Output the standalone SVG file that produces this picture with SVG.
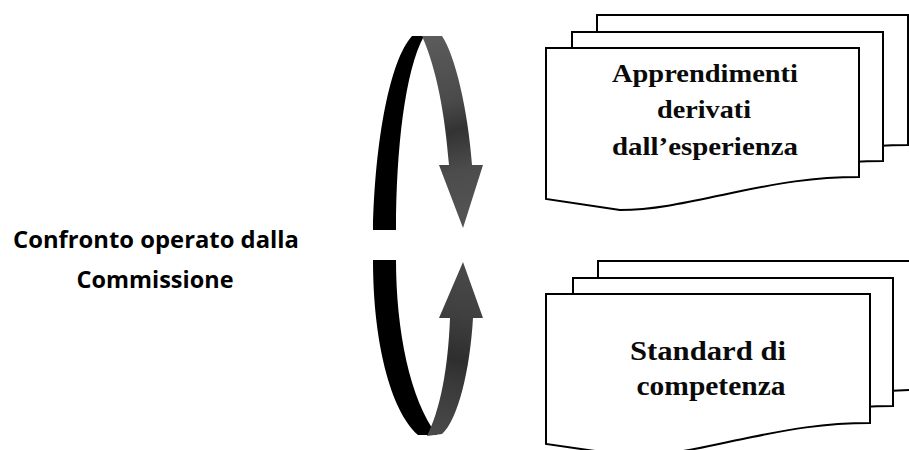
<svg xmlns="http://www.w3.org/2000/svg" width="909" height="450" viewBox="0 0 909 450">
  <style>
    .doc { fill: #ffffff; stroke: #000000; stroke-width: 2; stroke-linejoin: miter; }
    .doc-text { font-family: "Liberation Serif", "Times New Roman", serif; font-weight: bold; fill: #0a0a0a; text-anchor: middle; }
    .side-text { font-family: "Open Sans", "Noto Sans", sans-serif; font-weight: bold; font-size: 23px; fill: #000000; text-anchor: middle; }
    .band-back { fill: #000000; }
  </style>
  <defs>
    <linearGradient id="gradTop" gradientUnits="userSpaceOnUse" x1="425" y1="36" x2="475" y2="228">
      <stop offset="0" stop-color="#5c5c5c"/>
      <stop offset="0.35" stop-color="#4a4a4a"/>
      <stop offset="0.5" stop-color="#333333"/>
      <stop offset="0.7" stop-color="#4c4c4c"/>
      <stop offset="1" stop-color="#555555"/>
    </linearGradient>
    <linearGradient id="gradBottom" gradientUnits="userSpaceOnUse" x1="430" y1="435" x2="475" y2="262">
      <stop offset="0" stop-color="#4a4a4a"/>
      <stop offset="0.3" stop-color="#3a3a3a"/>
      <stop offset="0.45" stop-color="#2e2e2e"/>
      <stop offset="0.7" stop-color="#404040"/>
      <stop offset="1" stop-color="#4a4a4a"/>
    </linearGradient>
  </defs>

  <!-- side label -->
  <g id="label-confronto">
    <text class="side-text" x="156" y="248" textLength="286" lengthAdjust="spacingAndGlyphs">Confronto operato dalla</text>
    <text class="side-text" x="155" y="288" textLength="157" lengthAdjust="spacingAndGlyphs">Commissione</text>
  </g>

  <!-- circular arrows -->
  <g id="connectors">
    <g id="arrow-down">
      <path class="band-back" d="M373,230 C375,140 390,60 412,36 L424,36 C405,70 396,150 396,230 Z"/>
      <path fill="url(#gradTop)" d="M422,36 L442,36 C455,55 468,110 472,165 L483,165 L463,228 L439,165 L449,165 C445,115 437,70 422,36 Z"/>
    </g>
    <g id="arrow-up">
      <path class="band-back" d="M373,260 L396,260 C396,330 410,400 437,435 L418,435 C390,410 373,340 373,260 Z"/>
      <path fill="url(#gradBottom)" d="M427,436 L442,434 C458,420 470,370 473,318 L483,318 L463,262 L439,318 L450,318 C448,370 440,410 427,436 Z"/>
    </g>
  </g>

  <!-- document stack: learning from experience -->
  <g id="doc-apprendimenti">
    <path class="doc" d="M597,15 H908 V145 C860,145 825,152 790,159 C750,167 710,178 671,178 L597,167 Z"/>
    <path class="doc" d="M572,32 H883 V161 C835,161 800,168 765,175 C725,183 685,194 646,194 L572,183 Z"/>
    <path class="doc" d="M546,48 H859 V177 C811,177 776,184 741,191 C701,199 661,210 620,210 L546,199 Z"/>
    <text class="doc-text" font-size="26" x="705" y="82" textLength="186" lengthAdjust="spacingAndGlyphs">Apprendimenti</text>
    <text class="doc-text" font-size="26" x="704" y="118" textLength="94" lengthAdjust="spacingAndGlyphs">derivati</text>
    <text class="doc-text" font-size="26" x="705" y="155" textLength="186" lengthAdjust="spacingAndGlyphs">dall’esperienza</text>
  </g>

  <!-- document stack: competence standards -->
  <g id="doc-standard">
    <path class="doc" d="M598,261 H918 V390 C870,390 835,397 800,404 C760,412 720,423 680,423 L598,412 Z"/>
    <path class="doc" d="M573,278 H893 V406 C845,406 810,413 775,420 C735,428 695,439 655,439 L573,428 Z"/>
    <path class="doc" d="M546,294 H870 V423 C822,423 787,430 752,437 C712,445 672,456 630,456 L546,444 Z"/>
    <text class="doc-text" font-size="27" x="708" y="360" textLength="156" lengthAdjust="spacingAndGlyphs">Standard di</text>
    <text class="doc-text" font-size="27" x="711" y="395" textLength="149" lengthAdjust="spacingAndGlyphs">competenza</text>
  </g>
</svg>
